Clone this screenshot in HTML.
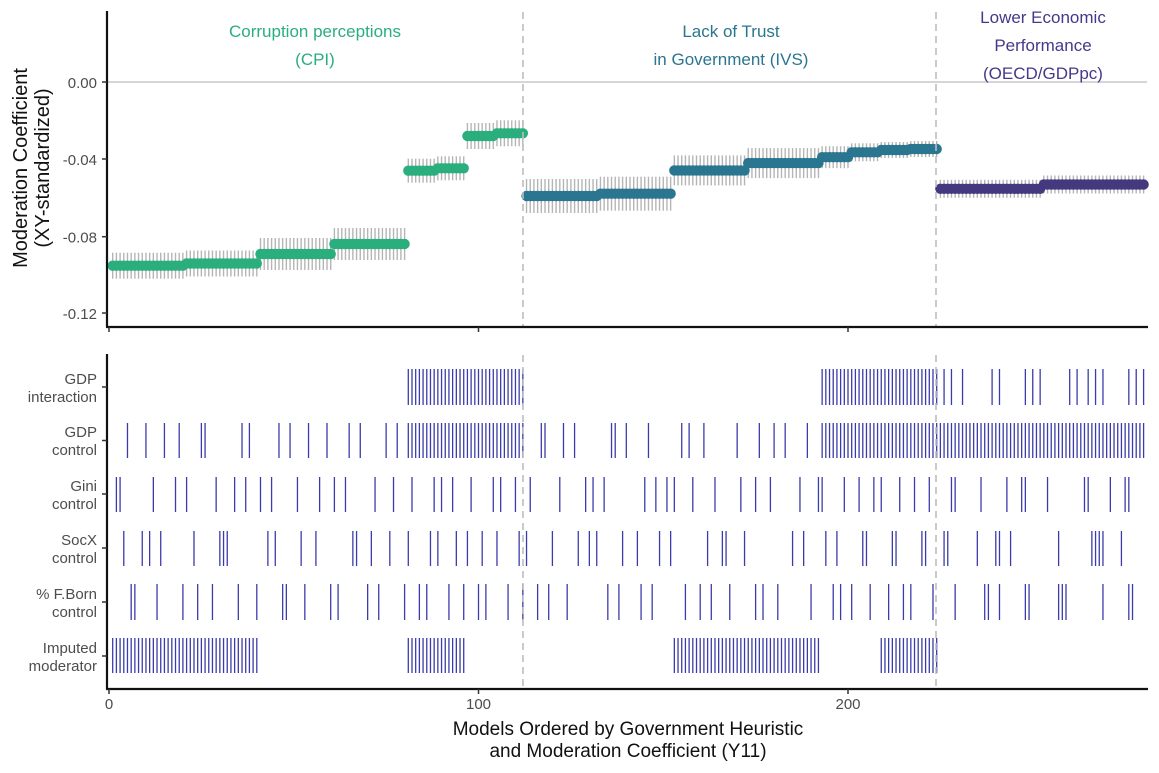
<!DOCTYPE html>
<html><head><meta charset="utf-8"><style>
html,body{margin:0;padding:0;background:#fff;}
svg{display:block;font-family:"Liberation Sans",Arial,sans-serif;}
</style></head><body>
<svg id="s" width="1159" height="773" viewBox="0 0 1159 773" xmlns="http://www.w3.org/2000/svg">
<rect width="1159" height="773" fill="#fff"/>
<line x1="107" y1="82" x2="1147" y2="82" stroke="#c8c8c8" stroke-width="1.5"/>
<g id="eb"></g>
<g id="pts"></g>
<g id="ticks"></g>
<g stroke="#bdbdbd" stroke-width="1.6" stroke-dasharray="7,5">
<line x1="523" y1="12" x2="523" y2="326"/><line x1="936" y1="12" x2="936" y2="326"/>
<line x1="523" y1="355" x2="523" y2="688"/><line x1="936" y1="355" x2="936" y2="688"/>
</g>
<g stroke="#111" stroke-width="2.2" fill="none">
<line x1="107" y1="11" x2="107" y2="327"/><line x1="106" y1="327" x2="1148" y2="327"/>
<line x1="107" y1="354" x2="107" y2="689"/><line x1="106" y1="689" x2="1148" y2="689"/>
</g>
<g stroke="#333" stroke-width="1.5">
<line x1="102" y1="82" x2="107" y2="82"/><line x1="102" y1="159" x2="107" y2="159"/>
<line x1="102" y1="236.7" x2="107" y2="236.7"/><line x1="102" y1="313" x2="107" y2="313"/>
<line x1="109" y1="327" x2="109" y2="332"/><line x1="478.5" y1="327" x2="478.5" y2="332"/><line x1="848" y1="327" x2="848" y2="332"/>
<line x1="109" y1="689" x2="109" y2="694"/><line x1="478.5" y1="689" x2="478.5" y2="694"/><line x1="848" y1="689" x2="848" y2="694"/>
<line x1="102" y1="387" x2="107" y2="387"/><line x1="102" y1="440.5" x2="107" y2="440.5"/><line x1="102" y1="494" x2="107" y2="494"/>
<line x1="102" y1="548" x2="107" y2="548"/><line x1="102" y1="602" x2="107" y2="602"/><line x1="102" y1="656" x2="107" y2="656"/>
</g>
<g fill="#4d4d4d" font-size="15" text-anchor="end">
<text x="97" y="88">0.00</text><text x="97" y="165">-0.04</text><text x="97" y="242.7">-0.08</text><text x="97" y="319">-0.12</text>
<text x="97" y="384">GDP</text><text x="97" y="402">interaction</text>
<text x="97" y="437">GDP</text><text x="97" y="455">control</text>
<text x="97" y="491">Gini</text><text x="97" y="509">control</text>
<text x="97" y="545">SocX</text><text x="97" y="563">control</text>
<text x="97" y="599">% F.Born</text><text x="97" y="617">control</text>
<text x="97" y="653">Imputed</text><text x="97" y="671">moderator</text>
</g>
<g fill="#4d4d4d" font-size="15" text-anchor="middle">
<text x="109" y="709">0</text><text x="478.5" y="709">100</text><text x="848" y="709">200</text>
</g>
<g fill="#111" font-size="19" text-anchor="middle">
<text x="628" y="735">Models Ordered by Government Heuristic</text>
<text x="628" y="757">and Moderation Coefficient (Y11)</text>
<text transform="translate(27,168) rotate(-90)" font-size="20">Moderation Coefficient</text>
<text transform="translate(49,168) rotate(-90)" font-size="20">(XY-standardized)</text>
</g>
<g font-size="17" text-anchor="middle">
<text x="315" y="37" fill="#2aae7e">Corruption perceptions</text>
<text x="315" y="65" fill="#2aae7e">(CPI)</text>
<text x="731" y="37" fill="#2b7590">Lack of Trust</text>
<text x="731" y="65" fill="#2b7590">in Government (IVS)</text>
<text x="1043" y="23" fill="#46388a">Lower Economic</text>
<text x="1043" y="51" fill="#46388a">Performance</text>
<text x="1043" y="79" fill="#46388a">(OECD/GDPpc)</text>
</g>
</svg>
<script>
var NS="http://www.w3.org/2000/svg";
function X(u){return 109+u*3.695;}
function el(p,t,a){var e=document.createElementNS(NS,t);for(var k in a)e.setAttribute(k,a[k]);p.appendChild(e);}
var G="#2aae7e",T="#2a7590",P="#44397f";
var segs=[[1,20,265.7,13,G],[21,40,263.5,13,G],[41,60,254,16,G],[61,80,244,16,G],[81,88,170.7,12,G],[89,96,168.3,12,G],[97,104,136,13,G],[105,112,133.3,13,G],
[113,132,196,17,T],[133,152,193.7,17,T],[153,172,170.4,15,T],[173,192,163.1,15,T],[193,200,157.2,11,T],[201,208,152.3,9,T],[209,216,150,8,T],[217,224,149,8,T],
[225,252,188.8,9,P],[253,280,184.5,9,P]];
var eb=document.getElementById("eb"),pts=document.getElementById("pts");
segs.forEach(function(s){for(var u=s[0];u<=s[1];u++){var x=X(u);
el(eb,"line",{x1:x,x2:x,y1:s[2]-s[3],y2:s[2]+s[3],stroke:"#b5b5b5","stroke-width":1.4});}});
segs.forEach(function(s){for(var u=s[0];u<=s[1];u++){el(pts,"circle",{cx:X(u),cy:s[2],r:5.2,fill:s[4]});}});
function rng(a,b){var r=[];for(var i=a;i<=b;i++)r.push(i);return r;}
var rows=[
[369,405,rng(81,112).concat(rng(193,224),[226,228,231,239,241,248,250,252,260,262,265,267,269,276,278,280])],
[423,458,[5,10,15,19,25,26,36,38,46,49,54,59,65,68,75,78].concat(rng(81,112),[117,118,123,126,136,137,140,146,155,157,161,170,176,180,183,189],rng(193,280))],
[477,512,[2,3,12,18,21,29,34,37,41,44,51,57,61,64,72,77,82,88,90,93,98,104,106,110,114,122,129,131,134,145,148,151,153,158,164,171,175,179,187,192,193,199,203,207,209,214,218,222,228,229,236,243,247,248,254,264,265,271,275,276]],
[531,566,[4,9,11,14,23,30,31,32,43,45,52,56,66,67,71,76,81,87,89,94,97,101,105,111,113,120,127,130,132,139,143,149,152,162,166,167,172,185,188,194,197,204,205,212,213,220,221,226,227,235,240,241,244,257,266,267,268,269,274]],
[584,620,[6,7,13,20,24,28,35,40,47,48,53,60,62,70,73,80,84,86,92,96,100,102,108,112,116,119,124,135,138,144,147,156,160,163,168,175,177,181,190,196,198,201,206,211,215,217,223,229,237,238,241,248,249,257,258,259,269,276,277]],
[638,673,rng(1,40).concat(rng(81,96),rng(153,192),rng(209,224))]];
var tk=document.getElementById("ticks");
rows.forEach(function(r){r[2].forEach(function(u){var x=X(u);el(tk,"line",{x1:x,x2:x,y1:r[0],y2:r[1],stroke:"#3b3bab","stroke-width":1.3});});});
</script>
</body></html>
